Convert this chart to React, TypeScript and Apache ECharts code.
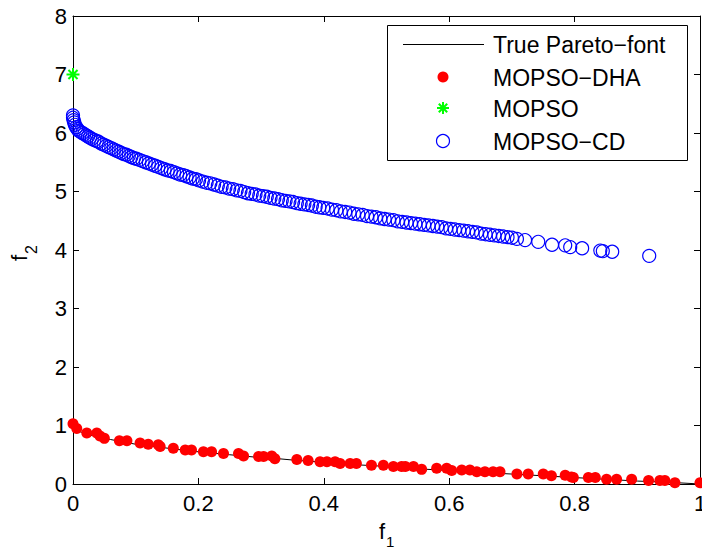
import React, { useEffect, useRef } from "react";
import * as echarts from "echarts";

// Tick values
const xTicks = [0, 0.2, 0.4, 0.6, 0.8, 1];
const yTicks = [0, 1, 2, 3, 4, 5, 6, 7, 8];

// True Pareto front (black line)
const trueFront: [number, number][] = [
  [0, 1.0], [0.005, 0.94], [0.01, 0.9], [0.02, 0.86], [0.04, 0.8], [0.06, 0.76],
  [0.08, 0.72], [0.1, 0.68], [0.13, 0.64], [0.16, 0.6], [0.2, 0.55], [0.25, 0.5],
  [0.3, 0.45], [0.33, 0.43], [0.35, 0.41], [0.4, 0.37], [0.45, 0.33], [0.5, 0.3],
  [0.55, 0.26], [0.6, 0.23], [0.65, 0.2], [0.7, 0.17], [0.75, 0.14], [0.8, 0.11],
  [0.85, 0.08], [0.9, 0.05], [0.95, 0.03], [1.0, 0.0],
];

// MOPSO-DHA (red dots)
const mopsoDHA: [number, number][] = [
  [0, 1.03], [0.006, 0.95], [0.022, 0.87], [0.038, 0.87], [0.043, 0.82], [0.05, 0.78],
  [0.074, 0.74], [0.086, 0.74], [0.107, 0.7], [0.12, 0.68], [0.136, 0.67], [0.139, 0.64],
  [0.16, 0.61], [0.179, 0.58], [0.189, 0.58], [0.208, 0.55], [0.221, 0.55], [0.24, 0.52],
  [0.264, 0.52], [0.272, 0.48], [0.296, 0.47], [0.304, 0.47], [0.317, 0.48], [0.322, 0.43],
  [0.357, 0.42], [0.375, 0.4], [0.394, 0.38], [0.405, 0.38], [0.418, 0.38], [0.426, 0.35],
  [0.442, 0.35], [0.452, 0.35], [0.476, 0.32], [0.495, 0.32], [0.511, 0.3], [0.524, 0.3],
  [0.53, 0.3], [0.543, 0.3], [0.556, 0.25], [0.58, 0.27], [0.596, 0.27], [0.604, 0.23],
  [0.62, 0.24], [0.633, 0.24], [0.644, 0.21], [0.657, 0.21], [0.67, 0.21], [0.681, 0.21],
  [0.708, 0.17], [0.726, 0.17], [0.75, 0.17], [0.763, 0.14], [0.785, 0.15], [0.795, 0.12],
  [0.798, 0.11], [0.822, 0.11], [0.833, 0.11], [0.851, 0.08], [0.867, 0.08], [0.891, 0.08],
  [0.918, 0.06], [0.936, 0.06], [0.944, 0.06], [0.96, 0.02], [1.0, 0.02],
];

// MOPSO (green star)
const mopso: [number, number][] = [[0, 7]];

// MOPSO-CD (blue circles)
const mopsoCD: [number, number][] = [
  [0, 6.3], [0, 6.26], [0.001, 6.22], [0.002, 6.18], [0.003, 6.14], [0.005, 6.1], [0.007, 6.07],
  [0.009, 6.04], [0.012, 6.02], [0.015, 6.0], [0.018, 5.98], [0.021, 5.96], [0.024, 5.94],
  [0.027, 5.92], [0.03, 5.9], [0.034, 5.88], [0.038, 5.86], [0.041, 5.85], [0.045, 5.82],
  [0.049, 5.8], [0.053, 5.78], [0.057, 5.76], [0.061, 5.74], [0.065, 5.72], [0.069, 5.7],
  [0.073, 5.68], [0.077, 5.66], [0.081, 5.64], [0.085, 5.63], [0.089, 5.61], [0.093, 5.59],
  [0.097, 5.57], [0.101, 5.56], [0.106, 5.54], [0.111, 5.52], [0.116, 5.5], [0.121, 5.48],
  [0.126, 5.46], [0.131, 5.44], [0.136, 5.42], [0.141, 5.4], [0.146, 5.38], [0.151, 5.36],
  [0.156, 5.35], [0.161, 5.33], [0.166, 5.31], [0.171, 5.29], [0.176, 5.28], [0.181, 5.26],
  [0.186, 5.24], [0.191, 5.22], [0.196, 5.21], [0.201, 5.19], [0.207, 5.17], [0.213, 5.15],
  [0.219, 5.14], [0.225, 5.12], [0.231, 5.1], [0.237, 5.08], [0.243, 5.07], [0.249, 5.05],
  [0.255, 5.04], [0.261, 5.02], [0.267, 5.01], [0.273, 4.99], [0.279, 4.97], [0.285, 4.96],
  [0.291, 4.95], [0.297, 4.93], [0.303, 4.92], [0.309, 4.91], [0.315, 4.89], [0.321, 4.88],
  [0.327, 4.87], [0.333, 4.85], [0.339, 4.84], [0.345, 4.83], [0.351, 4.82], [0.357, 4.8],
  [0.363, 4.79], [0.369, 4.78], [0.375, 4.77], [0.381, 4.76], [0.387, 4.74], [0.393, 4.73],
  [0.399, 4.72], [0.406, 4.71], [0.413, 4.69], [0.42, 4.68], [0.427, 4.66], [0.434, 4.65],
  [0.441, 4.64], [0.448, 4.62], [0.455, 4.61], [0.462, 4.6], [0.469, 4.58], [0.476, 4.57],
  [0.483, 4.56], [0.49, 4.54], [0.497, 4.53], [0.504, 4.52], [0.511, 4.51], [0.518, 4.49],
  [0.525, 4.48], [0.532, 4.47], [0.539, 4.46], [0.546, 4.45], [0.553, 4.44], [0.56, 4.43],
  [0.567, 4.42], [0.574, 4.41], [0.581, 4.4], [0.588, 4.39], [0.595, 4.37], [0.602, 4.36],
  [0.609, 4.35], [0.616, 4.34], [0.623, 4.33], [0.63, 4.32], [0.637, 4.31], [0.644, 4.3],
  [0.651, 4.28], [0.658, 4.27], [0.665, 4.26], [0.672, 4.25], [0.679, 4.24], [0.686, 4.23],
  [0.693, 4.22], [0.7, 4.21], [0.708, 4.19], [0.721, 4.17], [0.742, 4.14], [0.764, 4.09],
  [0.785, 4.08], [0.793, 4.05], [0.812, 4.03], [0.841, 3.99], [0.845, 3.98], [0.86, 3.97],
  [0.919, 3.9],
];

const legendNames = ["True Pareto\u2212font", "MOPSO\u2212DHA", "MOPSO", "MOPSO\u2212CD"];

const FONT = "'Liberation Sans', Arial, Helvetica, sans-serif";
const STAR = "path://M5,0L5,10M0,5L10,5M1.5,1.5L8.5,8.5M1.5,8.5L8.5,1.5";

export default function App() {
  const ref = useRef<HTMLDivElement>(null);
  useEffect(() => {
    if (!ref.current) return;
    document.body.style.margin = "0";
    document.body.style.overflow = "hidden";
    document.documentElement.style.overflow = "hidden";
    const chart = echarts.init(ref.current, null, { renderer: "svg", width: 702, height: 550 });
    const axisCommon = {
      type: "value" as const,
      axisLine: { show: true, onZero: false, lineStyle: { color: "#000", width: 1 } },
      axisTick: { show: true, inside: true, length: 6, lineStyle: { color: "#000", width: 1 } },
      splitLine: { show: false },
    };
    const labelStyle = { color: "#000", fontSize: 22, fontFamily: FONT };
    const lx = 443;
    const rows = [44, 77, 108, 141];
    chart.setOption({
      animation: false,
      backgroundColor: "#fff",
      grid: { left: 73, right: 2, top: 16, bottom: 66, show: false, containLabel: false, outerBoundsMode: "none" },
      xAxis: [
        { ...axisCommon, position: "bottom", min: xTicks[0], max: xTicks[xTicks.length - 1], interval: 0.2,
          axisLabel: { ...labelStyle, margin: 8 } },
        { ...axisCommon, position: "top", min: xTicks[0], max: xTicks[xTicks.length - 1], interval: 0.2,
          axisLabel: { show: false } },
      ],
      yAxis: [
        { ...axisCommon, position: "left", min: yTicks[0], max: yTicks[yTicks.length - 1], interval: 1,
          axisLabel: { ...labelStyle, margin: 6 } },
        { ...axisCommon, position: "right", min: yTicks[0], max: yTicks[yTicks.length - 1], interval: 1,
          axisLabel: { show: false } },
      ],
      series: [
        { name: legendNames[0], type: "line", data: trueFront, showSymbol: false, symbol: "none",
          lineStyle: { color: "#000", width: 1 }, z: 1 },
        { name: legendNames[1], type: "scatter", data: mopsoDHA, symbol: "circle", symbolSize: 11,
          itemStyle: { color: "#ff0000", opacity: 1 }, z: 2 },
        { name: legendNames[2], type: "scatter", data: mopso, symbol: STAR, symbolSize: 13,
          itemStyle: { color: "none", borderColor: "#00ff00", borderWidth: 2, opacity: 1 }, z: 3 },
        { name: legendNames[3], type: "scatter", data: mopsoCD, symbol: "circle", symbolSize: 13,
          itemStyle: { color: "none", borderColor: "#0000ff", borderWidth: 1.2, opacity: 1 }, z: 4 },
      ],
      graphic: [
        // axis titles
        { type: "text", left: 379, top: 520, style: { text: "f", fontSize: 22, fontFamily: FONT, fill: "#000" } },
        { type: "text", left: 386, top: 534, style: { text: "1", fontSize: 15, fontFamily: FONT, fill: "#000" } },
        { type: "group", x: 8, y: 261, rotation: Math.PI / 2, children: [
          { type: "text", x: 0, y: 0, style: { text: "f", fontSize: 22, fontFamily: FONT, fill: "#000", verticalAlign: "top" } },
          { type: "text", x: 7, y: 15, style: { text: "2", fontSize: 16, fontFamily: FONT, fill: "#000", verticalAlign: "top" } },
        ] },
        // legend box
        { type: "rect", shape: { x: 387.5, y: 25.5, width: 300, height: 135 },
          style: { fill: "#fff", stroke: "#000", lineWidth: 1 }, z: 100 },
        { type: "line", shape: { x1: 403, y1: rows[0] + 0.5, x2: 484, y2: rows[0] + 0.5 },
          style: { stroke: "#000", lineWidth: 1 }, z: 101 },
        { type: "circle", shape: { cx: lx, cy: rows[1], r: 5.5 }, style: { fill: "#ff0000" }, z: 101 },
        { type: "line", shape: { x1: lx, y1: rows[2] - 6, x2: lx, y2: rows[2] + 6 }, style: { stroke: "#00ff00", lineWidth: 2 }, z: 101 },
        { type: "line", shape: { x1: lx - 6, y1: rows[2], x2: lx + 6, y2: rows[2] }, style: { stroke: "#00ff00", lineWidth: 2 }, z: 101 },
        { type: "line", shape: { x1: lx - 4.2, y1: rows[2] - 4.2, x2: lx + 4.2, y2: rows[2] + 4.2 }, style: { stroke: "#00ff00", lineWidth: 2 }, z: 101 },
        { type: "line", shape: { x1: lx - 4.2, y1: rows[2] + 4.2, x2: lx + 4.2, y2: rows[2] - 4.2 }, style: { stroke: "#00ff00", lineWidth: 2 }, z: 101 },
        { type: "circle", shape: { cx: lx, cy: rows[3], r: 6.5 }, style: { fill: "none", stroke: "#0000ff", lineWidth: 1.2 }, z: 101 },
        ...legendNames.map((n, i) => ({
          type: "text", x: 493, y: rows[i] + 1, z: 101,
          style: { text: n, fontSize: 23, fontFamily: FONT, fill: "#000", verticalAlign: "middle" },
        })),
      ],
    });
    return () => chart.dispose();
  }, []);
  return <div ref={ref} style={{ position: "fixed", left: 0, top: 0, width: 702, height: 550, background: "#fff" }} />;
}
